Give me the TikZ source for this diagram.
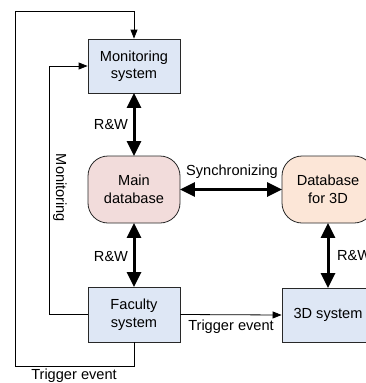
\documentclass[tikz,border=0pt]{standalone}
\usepackage{fontspec}
\setmainfont{Liberation Sans}
\usetikzlibrary{arrows.meta}
\definecolor{boxblue}{RGB}{222,231,245}
\definecolor{dbpink}{RGB}{242,220,219}
\definecolor{dbpeach}{RGB}{252,230,215}
\definecolor{edge}{RGB}{40,40,40}
\tikzset{
  sysbox/.style={draw=edge, line width=0.8pt, fill=boxblue, minimum width=92pt, inner sep=0pt, align=center, font=\fontsize{14.6}{17.5}\selectfont},
  dbbox/.style={draw=edge, line width=0.8pt, rounded corners=20pt, minimum width=92pt, minimum height=67pt, inner sep=0pt, align=center, font=\fontsize{14.6}{17.5}\selectfont},
  lbl/.style={inner sep=0pt, font=\fontsize{14.6}{17.5}\selectfont},
  thinarrow/.style={draw=black, line width=0.8pt, -{Triangle[length=9pt,width=7pt]}},
  thinline/.style={draw=black, line width=0.8pt},
  bigarrow/.style={draw=black, line width=3pt, {Triangle[length=15pt,width=14pt]}-{Triangle[length=15pt,width=14pt]}, shorten <=-0.5pt, shorten >=-0.5pt}
}
\begin{document}
\begin{tikzpicture}[x=1pt,y=-1pt]
\clip (0,0) rectangle (366,383);
\useasboundingbox (0,0) rectangle (366,383);
\fill[white] (0,0) rectangle (366,383);
\node[sysbox, minimum height=54pt] (mon) at (134,66) {Monitoring\\system};
\node[dbbox, fill=dbpink] (main) at (134,189.5) {Main\\database};
\node[dbbox, fill=dbpeach] (db3d) at (328,189.5) {Database\\for 3D};
\node[sysbox, minimum height=55pt] (fac) at (134,314.5) {Faculty\\system};
\node[sysbox, minimum height=54pt] (sys3d) at (328,315) {3D system};
\coordinate (bl) at (15,366);
\coordinate (tl) at (15,11);
\coordinate (ml) at (49,314.5);
% thick arrows
\draw[bigarrow] (mon.south) -- (main.north);
\draw[bigarrow] (main.south) -- (fac.north);
\draw[bigarrow] (main.east) -- (db3d.west);
\draw[bigarrow] (db3d.south) -- (sys3d.north);
% thin connectors
\draw[thinarrow] (fac.east) -- (sys3d.west);
\draw[thinarrow] (fac.west) -- (ml) |- (mon.west);
\draw[thinline] (fac.south) |- (bl);
\draw[thinarrow] (bl) -- (tl) -| (mon.north);
% labels
\node[lbl] (l1) at (111,125) {R\&W};
\node[lbl] (l2) at (111,257) {R\&W};
\node[lbl, anchor=west] (l3) at (337,256) {R\&W};
\node[lbl] (l4) at (232,172) {Synchronizing};
\node[lbl] (l5) at (231,327) {Trigger event};
\node[lbl] (l6) at (74,376) {Trigger event};
\node[lbl, rotate=-90] (l7) at (60,188) {Monitoring};
\end{tikzpicture}
\end{document}
